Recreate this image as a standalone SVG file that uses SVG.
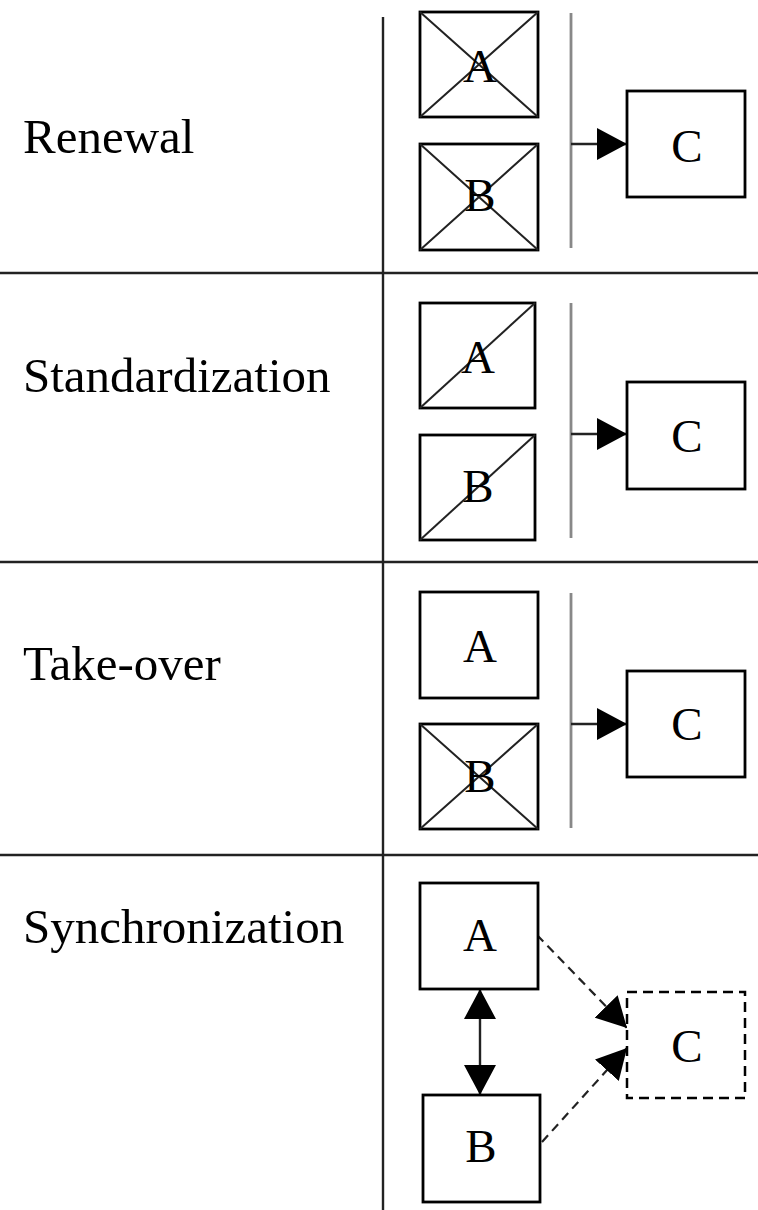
<svg xmlns="http://www.w3.org/2000/svg" width="758" height="1210" viewBox="0 0 758 1210">
<defs>
<style>
.lbl{font-family:"Liberation Serif","Times New Roman",serif;font-size:49px;fill:#000}
.ltr{font-family:"Liberation Serif","Times New Roman",serif;font-size:47px;fill:#000;text-anchor:middle}
.box{fill:#fff;stroke:#000;stroke-width:2.8}
.dbox{fill:#fff;stroke:#000;stroke-width:2.5;stroke-dasharray:10,6}
.x{stroke:#222;stroke-width:2;fill:none}
.grid{stroke:#222;stroke-width:2.4;fill:none}
.bar{stroke:#888;stroke-width:2.8;fill:none}
.conn{stroke:#222;stroke-width:2.4;fill:none}
.dash{stroke:#222;stroke-width:2.2;fill:none;stroke-dasharray:9,6}
</style>
<marker id="ah" markerUnits="userSpaceOnUse" markerWidth="30" markerHeight="32" refX="30" refY="16" orient="auto">
<path d="M0,0 L30,16 L0,32 Z" fill="#000"/>
</marker>
<marker id="ahs" markerUnits="userSpaceOnUse" markerWidth="30" markerHeight="32" refX="30" refY="16" orient="auto-start-reverse">
<path d="M0,0 L30,16 L0,32 Z" fill="#000"/>
</marker>
</defs>
<g id="grid">
<line class="grid" x1="383" y1="17" x2="383" y2="1210"/>
<line class="grid" x1="0" y1="273" x2="758" y2="273"/>
<line class="grid" x1="0" y1="562" x2="758" y2="562"/>
<line class="grid" x1="0" y1="855" x2="758" y2="855"/>
</g>
<g id="labels">
<text class="lbl" x="23" y="153">Renewal</text>
<text class="lbl" x="23" y="392">Standardization</text>
<text class="lbl" x="23" y="680">Take-over</text>
<text class="lbl" x="23" y="943">Synchronization</text>
</g>
<g id="connectors">
<line class="bar" x1="571" y1="13" x2="571" y2="248"/>
<line class="conn" x1="571" y1="144" x2="627" y2="144" marker-end="url(#ah)"/>
<line class="bar" x1="571" y1="303" x2="571" y2="538"/>
<line class="conn" x1="571" y1="434" x2="627" y2="434" marker-end="url(#ah)"/>
<line class="bar" x1="571" y1="593" x2="571" y2="828"/>
<line class="conn" x1="571" y1="724" x2="627" y2="724" marker-end="url(#ah)"/>
<line class="conn" x1="480" y1="989" x2="480" y2="1095" marker-start="url(#ahs)" marker-end="url(#ah)"/>
<line class="dash" x1="537" y1="935" x2="627" y2="1028" marker-end="url(#ah)"/>
<line class="dash" x1="542" y1="1142" x2="627" y2="1048" marker-end="url(#ah)"/>
</g>
<g id="renewal-A">
<rect class="box" x="420" y="12" width="118" height="105"/>
<path class="x" d="M420,12 L538,117 M538,12 L420,117"/>
<text class="ltr" x="480" y="82">A</text>
</g>
<g id="renewal-B">
<rect class="box" x="420" y="144" width="118" height="106"/>
<path class="x" d="M420,144 L538,250 M538,144 L420,250"/>
<text class="ltr" x="480" y="211">B</text>
</g>
<g id="renewal-C">
<rect class="box" x="627" y="91" width="118" height="106"/>
<text class="ltr" x="687" y="162">C</text>
</g>
<g id="standardization-A">
<rect class="box" x="420" y="303" width="115" height="105"/>
<path class="x" d="M420,408 L535,303"/>
<text class="ltr" x="478" y="373">A</text>
</g>
<g id="standardization-B">
<rect class="box" x="420" y="435" width="115" height="105"/>
<path class="x" d="M420,540 L535,435"/>
<text class="ltr" x="478" y="502">B</text>
</g>
<g id="standardization-C">
<rect class="box" x="627" y="382" width="118" height="107"/>
<text class="ltr" x="687" y="452">C</text>
</g>
<g id="takeover-A">
<rect class="box" x="420" y="592" width="118" height="106"/>
<text class="ltr" x="480" y="662">A</text>
</g>
<g id="takeover-B">
<rect class="box" x="420" y="724" width="118" height="105"/>
<path class="x" d="M420,724 L538,829 M538,724 L420,829"/>
<text class="ltr" x="480" y="792">B</text>
</g>
<g id="takeover-C">
<rect class="box" x="627" y="671" width="118" height="106"/>
<text class="ltr" x="687" y="740">C</text>
</g>
<g id="sync-A">
<rect class="box" x="420" y="883" width="118" height="106"/>
<text class="ltr" x="480" y="951">A</text>
</g>
<g id="sync-B">
<rect class="box" x="423" y="1095" width="117" height="107"/>
<text class="ltr" x="481" y="1162">B</text>
</g>
<g id="sync-C">
<rect class="dbox" x="627" y="992" width="118" height="106"/>
<text class="ltr" x="687" y="1062">C</text>
</g>
</svg>
